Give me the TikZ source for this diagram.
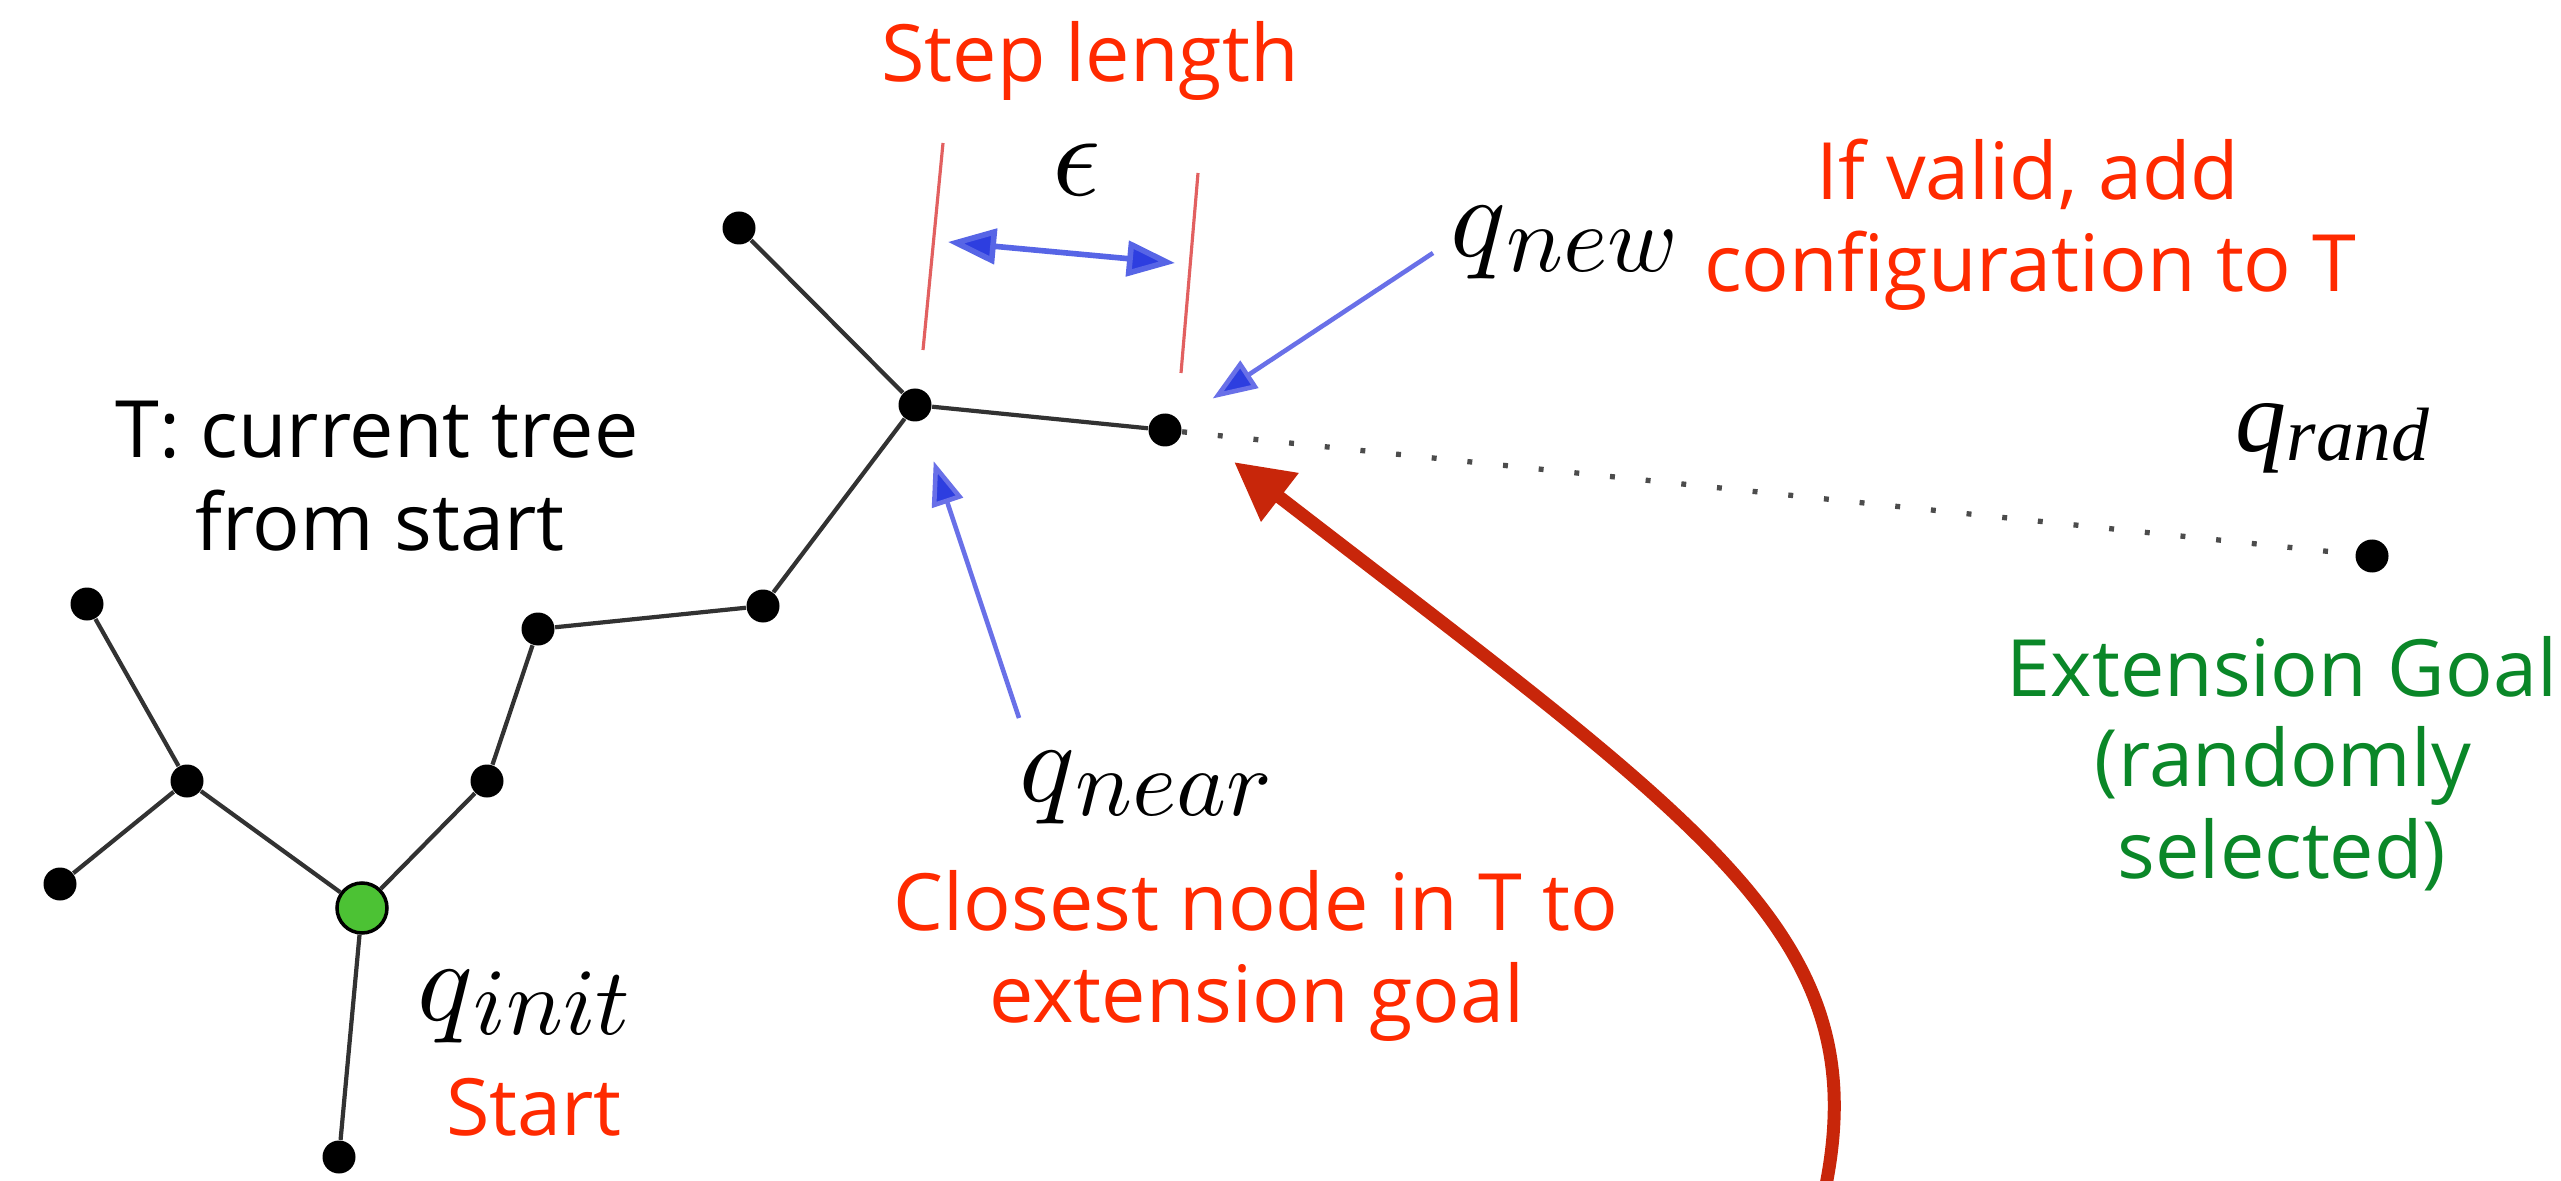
\documentclass[tikz,border=0pt]{standalone}
\usepackage{fontspec}
\usepackage{unicode-math}
\setmainfont{Open Sans}
\setmathfont{Latin Modern Math}
\newfontfamily\timesf{Liberation Serif}
\usetikzlibrary{arrows.meta}
\definecolor{txtred}{RGB}{255,42,0}
\definecolor{txtgreen}{RGB}{10,135,40}
\definecolor{arrred}{RGB}{200,38,10}
\definecolor{markred}{RGB}{226,96,96}
\definecolor{headblue}{RGB}{45,62,224}
\definecolor{shaftblue}{RGB}{105,112,232}
\definecolor{startgreen}{RGB}{76,194,52}
\definecolor{edgegray}{RGB}{50,50,50}
\newcommand{\qlab}[1]{{\fontsize{33}{33}\selectfont$q$}\raisebox{-4pt}{\fontsize{27}{27}\selectfont$#1$}}
\tikzset{
  blackdot/.style={circle, fill=black, inner sep=0pt, minimum size=3.3mm},
  startdot/.style={circle, fill=startgreen, draw=black, line width=1pt, inner sep=0pt, minimum size=5mm},
  treeedge/.style={draw=edgegray, line width=1.2pt},
  dotline/.style={draw=black!70, line width=1.5pt, dash pattern=on 1.4pt off 8.8pt},
  lbl/.style={inner sep=0pt, anchor=base, font=\fontsize{22.5}{27}\selectfont},
  mlbl/.style={inner sep=0pt, anchor=base west},
  bluearrow/.style={draw=shaftblue, line width=1.3pt, -{Triangle[length=4.4mm,width=3.2mm,fill=headblue]}},
  dblarrow/.style={draw=headblue!80!white, line width=1.6pt, {Triangle[length=4.8mm,width=3.5mm,fill=headblue]}-{Triangle[length=4.8mm,width=3.5mm,fill=headblue]}},
  markline/.style={draw=markred, line width=0.9pt},
  redarrow/.style={draw=arrred, line width=3.7pt, -{Triangle[length=5.8mm,width=5.8mm]}}
}
\begin{document}
\begin{tikzpicture}
\fill[white] (0,0) rectangle (25.61,11.80);
\useasboundingbox (0,0) rectangle (25.61,11.80);

% tree nodes
\node[blackdot] (L1) at (0.87,5.76) {};
\node[blackdot] (B) at (1.87,3.99) {};
\node[blackdot] (L2) at (0.60,2.96) {};
\node[blackdot] (L3) at (3.39,0.23) {};
\node[blackdot] (D) at (4.87,3.99) {};
\node[blackdot] (E) at (5.38,5.51) {};
\node[blackdot] (F) at (7.63,5.74) {};
\node[blackdot] (N) at (9.15,7.75) {};
\node[blackdot] (L4) at (7.39,9.52) {};
\node[blackdot] (W) at (11.65,7.50) {};
\node[blackdot] (R) at (23.72,6.24) {};
\node[startdot] (G) at (3.62,2.72) {};

% tree edges
\draw[treeedge] (L1) -- (B);
\draw[treeedge] (L2) -- (B);
\draw[treeedge] (B) -- (G);
\draw[treeedge] (G) -- (L3);
\draw[treeedge] (G) -- (D);
\draw[treeedge] (D) -- (E);
\draw[treeedge] (E) -- (F);
\draw[treeedge] (F) -- (N);
\draw[treeedge] (N) -- (L4);
\draw[treeedge] (N) -- (W);
\draw[dotline] (W) -- (R);

% step length marks
\coordinate (mL1) at (9.43,10.37);
\coordinate (mL2) at (9.23,8.30);
\coordinate (mR1) at (11.98,10.07);
\coordinate (mR2) at (11.81,8.07);
\draw[markline] (mL1) -- (mL2);
\draw[markline] (mR1) -- (mR2);
\coordinate (epsL) at (9.48,9.38);
\coordinate (epsR) at (11.75,9.17);
\draw[dblarrow] (epsL) -- (epsR);
\node[inner sep=0pt] (eps) at (10.77,10.10) {\fontsize{34}{34}\selectfont$\epsilon$};

% labels
\node[lbl, text=txtred] (steplen) at (10.90,10.98) {Step length};
\node[lbl, text=txtred] (valid1) at (20.28,9.80) {If valid, add};
\node[lbl, text=txtred] (valid2) at (20.30,8.88) {configuration to T};
\node[lbl] (tree1) at (3.77,7.22) {T: current tree};
\node[lbl] (tree2) at (3.80,6.30) {from start};
\node[lbl, text=txtgreen] (goal1) at (22.82,4.84) {Extension Goal};
\node[lbl, text=txtgreen] (goal2) at (22.83,3.94) {(randomly};
\node[lbl, text=txtgreen] (goal3) at (22.82,3.02) {selected)};
\node[lbl, text=txtred] (close1) at (12.56,2.50) {Closest node in T to};
\node[lbl, text=txtred] (close2) at (12.57,1.58) {extension goal};
\node[lbl, text=txtred] (startlbl) at (5.34,0.45) {Start};

\node[mlbl] (qnew) at (14.50,9.23) {\qlab{new}};
\node[mlbl] (qnear) at (10.19,3.79) {\qlab{near}};
\node[mlbl] (qinit) at (4.17,1.60) {\qlab{init}};
\node[mlbl] (qrand) at (22.35,7.28) {{\timesf\itshape\fontsize{29}{29}\selectfont q}\raisebox{-2.3pt}{\timesf\itshape\fontsize{21.5}{21.5}\selectfont rand}};

% blue pointer arrows
\coordinate (newtail) at (14.33,9.27);
\coordinate (neartail) at (10.19,4.62);
\draw[bluearrow, shorten >=4.0mm] (newtail) -- (W);
\draw[bluearrow, shorten >=4.2mm] (neartail) -- (N);

% red curved arrow
\coordinate (redstart) at (18.26,-0.05);
\coordinate (redtip) at (12.34,7.18);
\draw[redarrow] (redstart) .. controls (18.75,2.45) and (17.08,3.52) .. (redtip);
\end{tikzpicture}
\end{document}
